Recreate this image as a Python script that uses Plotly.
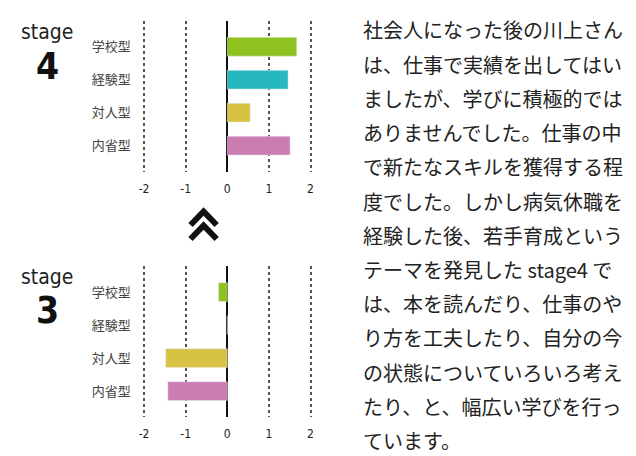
import plotly.graph_objects as go

# data
categories = ["学校型", "経験型", "対人型", "内省型"]
stage4_values = [1.67, 1.46, 0.55, 1.51]
stage3_values = [-0.21, 0.0, -1.48, -1.43]
bar_colors = ["#8fc21f", "#27b7bf", "#d7c244", "#cc7cb1"]
x_ticks = [-2, -1, 0, 1, 2]
stage_labels = [("stage", "4"), ("stage", "3")]
body_lines = [
    "社会人になった後の川上さん",
    "は、仕事で実績を出してはい",
    "ましたが、学びに積極的では",
    "ありませんでした。仕事の中",
    "で新たなスキルを獲得する程",
    "度でした。しかし病気休職を",
    "経験した後、若手育成という",
    "テーマを発見した stage4 で",
    "は、本を読んだり、仕事のや",
    "り方を工夫したり、自分の今",
    "の状態についていろいろ考え",
    "たり、と、幅広い学びを行っ",
    "ています。",
]

W, H = 636, 456
cond = "DejaVu Sans Condensed, Roboto, sans-serif"
jp = "Noto Sans CJK JP, sans-serif"

fig = go.Figure()

fig.add_trace(go.Bar(x=stage4_values, y=categories, orientation="h",
                     marker_color=bar_colors, width=0.57,
                     xaxis="x", yaxis="y", showlegend=False))
fig.add_trace(go.Bar(x=stage3_values, y=categories, orientation="h",
                     marker_color=bar_colors, width=0.57,
                     xaxis="x2", yaxis="y2", showlegend=False))


def px_x(px):
    return px / W


def px_y(py):
    return 1 - py / H


xr = [-2.2, 2.2]
unit = 41.6
x0 = 227.3 + xr[0] * unit
x1 = 227.3 + xr[1] * unit

xaxis_style = dict(
    range=xr, domain=[px_x(x0), px_x(x1)],
    tickvals=x_ticks, ticktext=[str(v) for v in x_ticks],
    showgrid=True, gridcolor="#555", griddash="dot", gridwidth=1.5,
    zeroline=True, zerolinecolor="#111", zerolinewidth=2,
    showline=False, ticks="", fixedrange=True,
    tickfont=dict(family=cond, size=12, color="#222"),
    ticklabelstandoff=8,
)
yaxis_style = dict(
    type="category", categoryorder="array", categoryarray=categories,
    range=[3.79, -0.79], showgrid=False, zeroline=False, showline=False,
    ticks="", fixedrange=True, ticklabelstandoff=4,
    tickfont=dict(family=jp, size=13, color="#444"),
)

fig.update_layout(
    width=W, height=H,
    margin=dict(l=0, r=0, t=0, b=0),
    paper_bgcolor="white", plot_bgcolor="white",
    xaxis=dict(**xaxis_style, anchor="y"),
    yaxis=dict(**yaxis_style, domain=[px_y(171.7), px_y(20.7)], anchor="x"),
    xaxis2=dict(**xaxis_style, anchor="y2"),
    yaxis2=dict(**yaxis_style, domain=[px_y(417.3), px_y(266)], anchor="x2"),
)

# stage headings
for (word, num), (y_word, y_num) in zip(stage_labels, [(32, 66), (277, 310)]):
    fig.add_annotation(x=px_x(47), y=px_y(y_word), xref="paper", yref="paper",
                       text=word, showarrow=False, xanchor="center", yanchor="middle",
                       font=dict(family=cond, size=21, color="#222", weight=500))
    fig.add_annotation(x=px_x(47), y=px_y(y_num), xref="paper", yref="paper",
                       text="<b>" + num + "</b>", showarrow=False,
                       xanchor="center", yanchor="middle",
                       font=dict(family=cond, size=37, color="#111"))

# double chevron between the two panels
for top in (211.5, 225.5):
    fig.add_shape(type="path", xref="paper", yref="paper",
                  path="M {:.4f},{:.4f} L {:.4f},{:.4f} L {:.4f},{:.4f}".format(
                      px_x(190.5), px_y(top + 13.5), px_x(203.6), px_y(top),
                      px_x(216.7), px_y(top + 13.5)),
                  line=dict(color="#111", width=6))

# body text on the right
for i, line in enumerate(body_lines):
    fig.add_annotation(x=px_x(361), y=px_y(30 + i * 34.2), xref="paper", yref="paper",
                       text=line, showarrow=False, xanchor="left", yanchor="middle",
                       font=dict(family=jp, size=20, color="#222"))

fig.write_html("out.html", config={"displayModeBar": False},
               post_script="document.body.style.margin='0';")
